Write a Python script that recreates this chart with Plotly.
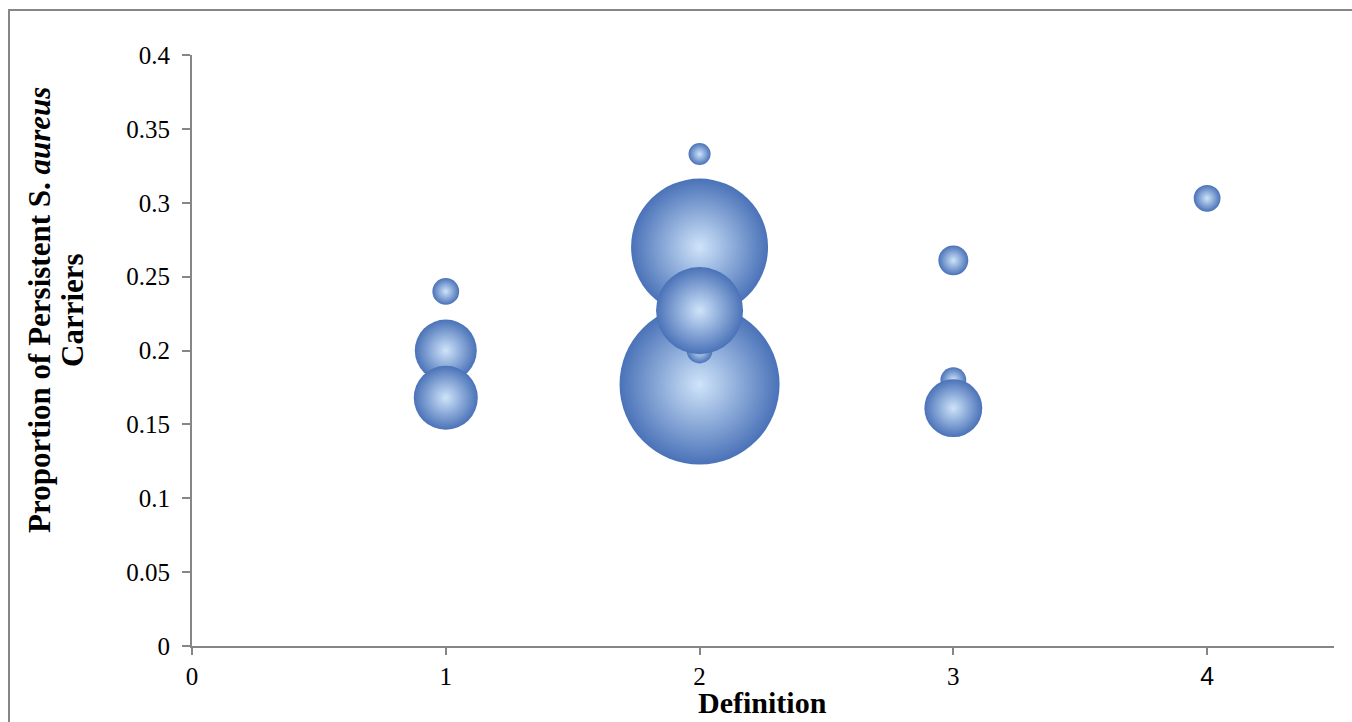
import numpy as np
import plotly.graph_objects as go

# ---- data ----
definition = [1, 1, 1, 2, 2, 2, 2, 2, 3, 3, 3, 4]
proportion = [0.240, 0.200, 0.168, 0.333, 0.270, 0.177, 0.200, 0.227, 0.261, 0.180, 0.161, 0.303]
bubble_size = [28, 150, 160, 19, 733, 1000, 26, 296, 35, 26, 131, 28]

x_tick_vals = [0, 1, 2, 3, 4]
x_tick_text = ["0", "1", "2", "3", '<span style="font-family:Liberation Sans">4</span>']
y_tick_vals = [0, 0.05, 0.1, 0.15, 0.2, 0.25, 0.3, 0.35, 0.4]
y_tick_text = ["0", "0.05", "0.1", "0.15", "0.2", "0.25", "0.3", "0.35", "0.4"]

# ---- layout geometry (pixels) ----
W, H = 1352, 722
L, R, T, B = 192, 18, 55, 76
pw, ph = W - L - R, H - T - B

def px_x(p):
    return (p - L) / pw

def px_y(p):
    return (H - B - p) / ph

MAX_D = 160
sizes = MAX_D * np.sqrt(np.array(bubble_size, dtype=float) / max(bubble_size))

AXIS_COL = "#868686"
SERIF = "Liberation Serif"

fig = go.Figure()
fig.add_trace(go.Scatter(
    x=definition, y=proportion, mode="markers",
    marker=dict(
        size=sizes, sizemode="diameter", sizeref=1,
        color="#4a72b8",
        gradient=dict(type="radial", color="#cfe4fa"),
        line=dict(width=0),
        opacity=1,
    ),
    hoverinfo="x+y",
    showlegend=False,
))

fig.update_layout(
    width=W, height=H,
    margin=dict(l=L, r=R, t=T, b=B, pad=0),
    paper_bgcolor="white", plot_bgcolor="white",
    font=dict(family=SERIF, size=25, color="black"),
    xaxis=dict(
        range=[0, 4.5], tickvals=x_tick_vals, ticktext=x_tick_text,
        showgrid=False, zeroline=False,
        showline=True, linecolor=AXIS_COL, linewidth=2,
        ticks="outside", ticklen=7, tickwidth=1.5, tickcolor=AXIS_COL,
        tickfont=dict(family=SERIF, size=25, color="black"),
        ticklabelstandoff=0,
    ),
    yaxis=dict(
        range=[0, 0.4], tickvals=y_tick_vals, ticktext=y_tick_text,
        showgrid=False, zeroline=False,
        showline=True, linecolor=AXIS_COL, linewidth=2,
        ticks="outside", ticklen=8, tickwidth=1.5, tickcolor=AXIS_COL,
        tickfont=dict(family=SERIF, size=25, color="black"),
        ticklabelstandoff=7,
    ),
    shapes=[dict(
        type="rect", xref="paper", yref="paper",
        x0=px_x(9), y0=px_y(10), x1=px_x(W + 20), y1=px_y(H + 20),
        line=dict(color=AXIS_COL, width=2), fillcolor="rgba(0,0,0,0)",
        layer="below",
    )],
    annotations=[
        dict(text="<b>Definition</b>", xref="paper", yref="paper",
             x=px_x(762), y=px_y(702), xanchor="center", yanchor="middle",
             showarrow=False, font=dict(family=SERIF, size=30, color="black")),
        dict(text="<b>Proportion of Persistent S. <i>aureus</i></b>", xref="paper", yref="paper",
             x=px_x(39), y=px_y(310), xanchor="center", yanchor="middle", textangle=-90,
             showarrow=False, font=dict(family=SERIF, size=31, color="black")),
        dict(text="<b>Carriers</b>", xref="paper", yref="paper",
             x=px_x(72), y=px_y(310), xanchor="center", yanchor="middle", textangle=-90,
             showarrow=False, font=dict(family=SERIF, size=31, color="black")),
    ],
)

fig.write_html("out.html")
